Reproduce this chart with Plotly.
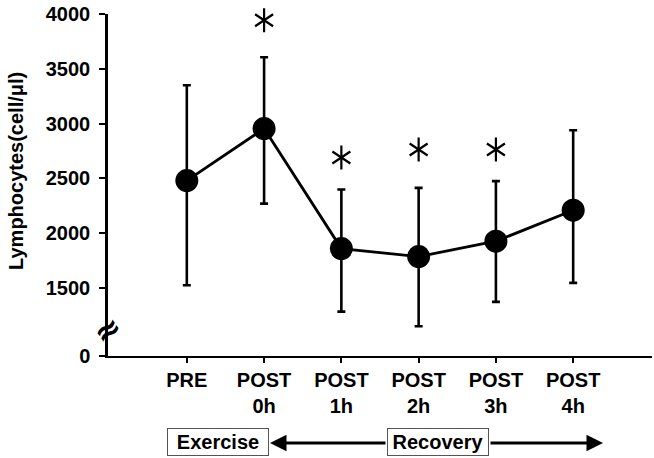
import plotly.graph_objects as go

# ---- data ----
categories = ["PRE", "POST<br>0h", "POST<br>1h", "POST<br>2h", "POST<br>3h", "POST<br>4h"]
lymph_mean = [2480, 2955, 1860, 1787, 1927, 2210]
lymph_upper = [3350, 3605, 2399, 2414, 2475, 2940]
lymph_lower = [1526, 2270, 1285, 1151, 1374, 1547]
sig_y = [None, 3943, 2691, 2764, 2764, None]  # asterisk positions (significance)
y_tick_vals = [880, 1500, 2000, 2500, 3000, 3500, 4000]
y_tick_text = ["0", "1500", "2000", "2500", "3000", "3500", "4000"]

xs = list(range(len(categories)))
err_plus = [u - m for u, m in zip(lymph_upper, lymph_mean)]
err_minus = [m - l for m, l in zip(lymph_mean, lymph_lower)]

FONT = "Liberation Sans, Arial, sans-serif"

fig = go.Figure()
fig.add_trace(go.Scatter(
    x=xs, y=lymph_mean, mode="lines+markers",
    line=dict(color="black", width=2.8),
    marker=dict(color="black", size=23),
    error_y=dict(type="data", symmetric=False, array=err_plus, arrayminus=err_minus,
                 color="black", thickness=2.6, width=4),
    showlegend=False, cliponaxis=False,
))
sx = [x for x, s in zip(xs, sig_y) if s is not None]
sy = [s for s in sig_y if s is not None]
for sym in ["y-up-open", "y-down-open"]:
    fig.add_trace(go.Scatter(
        x=sx, y=sy, mode="markers",
        marker=dict(symbol=sym, size=15, color="black", line=dict(color="black", width=2.2)),
        showlegend=False, cliponaxis=False,
    ))

W, H = 654, 458
ml, mr, mt, mb = 108, 2, 14, 102
pw, ph = W - ml - mr, H - mt - mb

def px(xpix):
    return (xpix - ml) / pw

def py(ypix):
    return (H - mb - ypix) / ph

fig.update_layout(
    width=W, height=H,
    margin=dict(l=ml, r=mr, t=mt, b=mb),
    plot_bgcolor="white", paper_bgcolor="white",
    font=dict(family=FONT, color="black"),
    xaxis=dict(
        range=[-1.02, 6.02], tickmode="array", tickvals=xs, ticktext=categories,
        showline=True, linecolor="black", linewidth=2,
        ticks="outside", ticklen=5, tickwidth=2, tickcolor="black",
        tickfont=dict(family=FONT, size=20, weight="bold", color="black"),
        showgrid=False, zeroline=False,
    ),
    yaxis=dict(
        range=[880, 4000], tickmode="array", tickvals=y_tick_vals, ticktext=y_tick_text,
        showline=True, linecolor="black", linewidth=2.5,
        ticks="outside", ticklen=6, tickwidth=2, tickcolor="black",
        ticklabelstandoff=5,
        tickfont=dict(family=FONT, size=20, weight="bold", color="black"),
        showgrid=False, zeroline=False,
    ),
)

annotations = [
    dict(text="Lymphocytes(cell/\u03bcl)", textangle=-90, xref="paper", yref="paper",
         x=px(16), y=py(171), xanchor="center", yanchor="middle", showarrow=False,
         font=dict(family=FONT, size=20, weight="bold", color="black")),
    dict(text="\u2248", textangle=-35, xref="paper", yref="paper",
         x=px(107), y=py(330), xanchor="center", yanchor="middle", showarrow=False,
         font=dict(family="DejaVu Sans", size=32, weight="bold", color="black")),
    dict(text="Exercise", xref="paper", yref="paper", x=px(218), y=py(442),
         xanchor="center", yanchor="middle", showarrow=False, width=100, height=26,
         borderpad=0, bordercolor="#555", borderwidth=1, bgcolor="white",
         font=dict(family=FONT, size=20, weight="bold", color="black")),
    dict(text="Recovery", xref="paper", yref="paper", x=px(438), y=py(442),
         xanchor="center", yanchor="middle", showarrow=False, width=100, height=26,
         borderpad=0, bordercolor="#555", borderwidth=1, bgcolor="white",
         font=dict(family=FONT, size=20, weight="bold", color="black")),
    dict(text="", xref="paper", yref="paper", x=px(270), y=py(443), ax=117, ay=0,
         showarrow=True, arrowhead=2, arrowsize=1.1, arrowwidth=3, arrowcolor="black"),
    dict(text="", xref="paper", yref="paper", x=px(603), y=py(443), ax=-114, ay=0,
         showarrow=True, arrowhead=2, arrowsize=1.1, arrowwidth=3, arrowcolor="black"),
]
fig.update_layout(annotations=annotations)

fig.write_html("out.html")
